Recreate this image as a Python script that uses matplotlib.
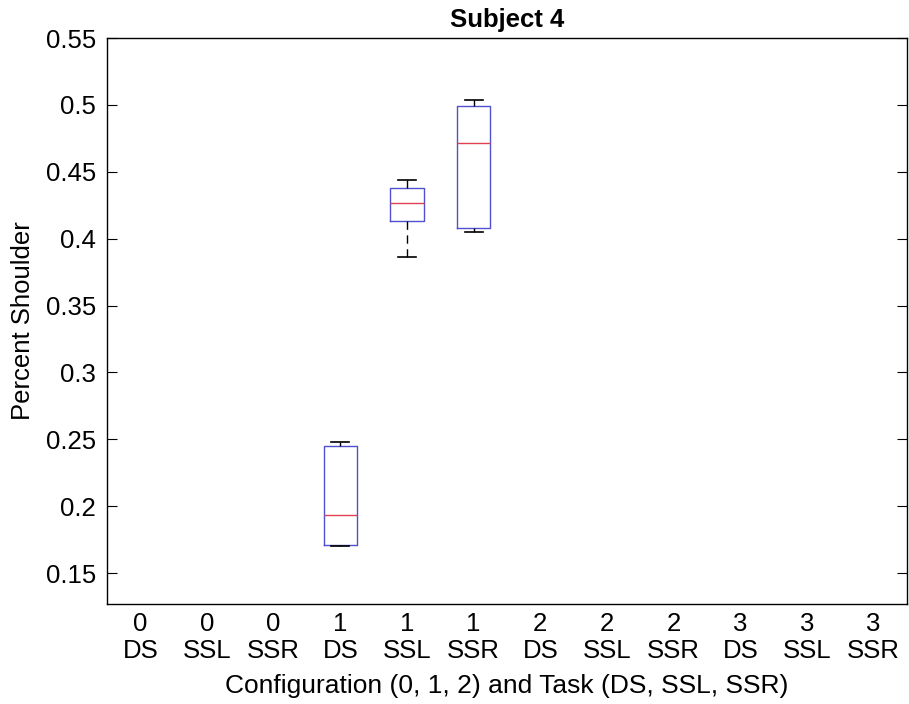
import matplotlib
matplotlib.use("Agg")
import matplotlib.pyplot as plt
from matplotlib.ticker import FormatStrFormatter

plt.rcParams['font.family'] = ['Liberation Sans', 'DejaVu Sans']

# categories: configuration / task
configs = ["0", "0", "0", "1", "1", "1", "2", "2", "2", "3", "3", "3"]
tasks = ["DS", "SSL", "SSR"] * 4

# box statistics (only config 1 has data)
box_pos = [4, 5, 6]
whis_lo = [0.170, 0.386, 0.405]
q1 = [0.171, 0.413, 0.408]
med = [0.193, 0.4265, 0.4713]
q3 = [0.245, 0.4376, 0.499]
whis_hi = [0.248, 0.4436, 0.5036]

stats = []
for i in range(len(box_pos)):
	stats.append(dict(whislo=whis_lo[i], q1=q1[i], med=med[i],
		q3=q3[i], whishi=whis_hi[i], fliers=[]))

fs = 18.5

fig = plt.figure(figsize=(9.09, 7.04), dpi=100)
ax = fig.add_axes([0.1177, 0.142, 0.880, 0.804])

ax.bxp(stats, positions=box_pos, widths=0.5, capwidths=0.27,
	showfliers=False,
	boxprops=dict(color="#5050d0", lw=1.0),
	medianprops=dict(color="#e04050", lw=1.0),
	whiskerprops=dict(color="black", lw=1.0, ls=(0, (6, 4))),
	capprops=dict(color="black", lw=1.2))

ax.set_xlim(0.5, 12.5)
ax.set_ylim(0.1268, 0.55)
ax.set_yticks([0.15, 0.2, 0.25, 0.3, 0.35, 0.4, 0.45, 0.5, 0.55])
ax.yaxis.set_major_formatter(FormatStrFormatter('%g'))
ax.set_xticks(range(1, 13))
ax.set_xticklabels(["%s\n%s" % (c, t) for c, t in zip(configs, tasks)],
	linespacing=1.15)

ax.tick_params(axis='y', direction='in', length=7, right=True,
	labelsize=fs, pad=8)
ax.tick_params(axis='x', length=0, labelsize=fs, pad=6)
for sp in ax.spines.values():
	sp.set_linewidth(1.0)

ax.set_title("Subject 4", fontsize=fs, fontweight='bold', pad=8)
ax.set_ylabel("Percent Shoulder", fontsize=fs, labelpad=8)
ax.set_xlabel("Configuration (0, 1, 2) and Task (DS, SSL, SSR)", fontsize=19,
	labelpad=8)

fig.savefig("out.png", dpi=100)
